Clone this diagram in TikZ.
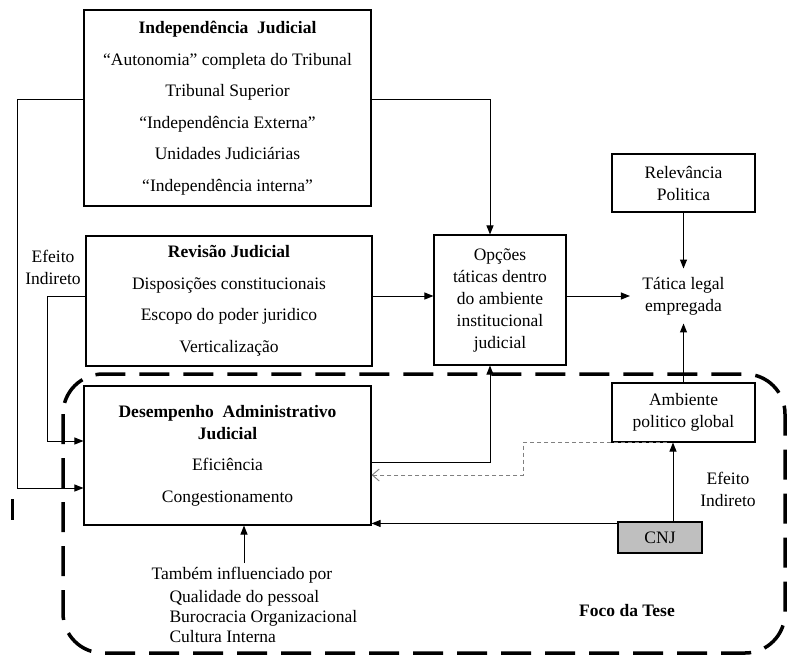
\documentclass[tikz,border=0pt]{standalone}
\usepackage{fontspec}
\setmainfont{Liberation Serif}
\usetikzlibrary{positioning,calc,arrows.meta}

\begin{document}
\begin{tikzpicture}[x=1pt, y=-1pt, >={Triangle[length=9pt, width=7pt]}, line width=1pt,
    font=\fontsize{17.5}{22}\selectfont,
    box/.style={draw, line width=1.1pt, align=center, inner sep=0pt},
    wide/.style={font=\fontsize{17.5}{31.5}\selectfont},
    dashline/.style={draw=gray, line width=0.9pt, dash pattern=on 4pt off 3pt}]

    \useasboundingbox (0, 0) rectangle (788, 657);

    % foco da tese
    \draw [line width=3.5pt, dash pattern=on 30pt off 14pt, rounded corners=40pt] (63, 374) rectangle (785, 653);
    \draw [line width=3pt] (12, 499) -- (12, 520);

    \node [box, wide, minimum width=287pt, minimum height=196pt] (ij) at (227.5, 108) {\textbf{Independência\ \ Judicial}\\“Autonomia” completa do Tribunal\\Tribunal Superior\\“Independência Externa”\\Unidades Judiciárias\\“Independência interna”};
    \node [box, wide, minimum width=286pt, minimum height=130pt] (rj) at (229, 301) {\textbf{Revisão Judicial}\\Disposições constitucionais\\Escopo do poder juridico\\Verticalização};
    \node [box, minimum width=287pt, minimum height=139pt] (dj) at (227.5, 455.5) {\textbf{Desempenho\ \ Administrativo}\\\textbf{Judicial}\\[9.5pt]Eficiência\\[9.5pt]Congestionamento};
    \node [box, minimum width=132pt, minimum height=130pt] (op) at (500, 300) {Opções\\táticas dentro\\do ambiente\\institucional\\judicial};
    \node [box, minimum width=143pt, minimum height=58pt] (rp) at (683.5, 183) {Relevância\\Politica};
    \node [align=center, inner xsep=12pt, inner ysep=8pt] (tl) at (683.5, 296) {Tática legal\\empregada};
    \node [box, minimum width=143pt, minimum height=59pt] (ap) at (683.5, 412.5) {Ambiente\\politico global};
    \node [box, fill=gray!50, minimum width=84pt, minimum height=31pt] (cnj) at (660, 537.5) {CNJ};

    \node [align=center] (efl) at (53, 267) {Efeito\\Indireto};
    \node [align=center] (efr) at (728, 489) {Efeito\\Indireto};
    \node (ti) at (242, 575) {Também influenciado por};
    \node [align=left, anchor=west, inner xsep=0pt, font=\fontsize{17.5}{20}\selectfont] (fl) at (169, 617) {Qualidade do pessoal\\Burocracia Organizacional\\Cultura Interna};
    \node (ft) at (627, 611) {\textbf{Foco da Tese}};

    % ligacoes
    \coordinate (l1) at (17, 488);
    \coordinate (l2) at (47, 441);
    \draw [->] ([yshift=9pt]ij.west) -| (l1) -- (l1 -| dj.west);
    \draw [->] ([yshift=5pt]rj.west) -| (l2) -- (l2 -| dj.west);
    \draw [->] ([yshift=9pt]ij.east) -| ([xshift=-10pt]op.north);
    \draw [->] ([yshift=5pt]rj.east) -- ([yshift=5pt]rj.east -| op.west);
    \draw [->] (op.east |- tl) -- (tl.west);
    \draw [->] (rp) -- (tl);
    \draw [->] (ap) -- (tl);
    \draw [->] ([yshift=-6.5pt]dj.east) -| ([xshift=-10pt]op.south);

    \coordinate (c1) at ([xshift=13pt]cnj.north);
    \coordinate (c2) at ([yshift=-2pt]cnj.north west);
    \coordinate (t1) at ([xshift=2pt]ti.north);
    \draw [->] (c1) -- (c1 |- ap.south);
    \draw [->] (c2) -- (c2 -| dj.east);
    \draw [->] (t1) -- (t1 |- dj.south);

    \coordinate (d1) at ([xshift=-16.5pt]ap.south);
    \coordinate (d2) at (523, 475);
    \draw [dashline, -{Straight Barb[length=7pt, width=12pt]}] (d1) -| (d2) -- (d2 -| dj.east);

\end{tikzpicture}
\end{document}
